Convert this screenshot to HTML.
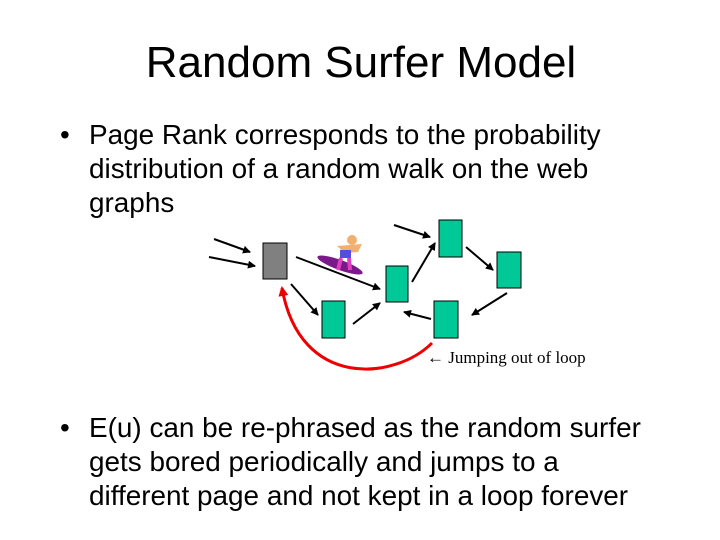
<!DOCTYPE html>
<html><head><style>
body{margin:0;width:720px;height:540px;background:#fff;font-family:"Liberation Sans",sans-serif;position:relative;overflow:hidden}
.t{position:absolute;left:0;width:722px;text-align:center;top:38px;font-size:44px}
.b{position:absolute;font-size:27.9px;line-height:34px;color:#000;white-space:nowrap}
</style></head><body>
<div class="t">Random Surfer Model</div>
<div class="b" style="left:60px;top:118px">•</div>
<div class="b" style="left:89px;top:118px">Page Rank corresponds to the probability<br>distribution of a random walk on the web<br>graphs</div>
<div class="b" style="left:60px;top:411px">•</div>
<div class="b" style="left:89px;top:411px">E(u) can be re-phrased as the random surfer<br>gets bored periodically and jumps to a<br>different page and not kept in a loop forever</div>
<svg width="720" height="540" style="position:absolute;left:0;top:0">
<defs><marker id="a" markerWidth="8" markerHeight="8" refX="7" refY="4" orient="auto" markerUnits="userSpaceOnUse"><path d="M0,0L8,4L0,8z" fill="#000"/></marker>
<marker id="r" markerWidth="10" markerHeight="10" refX="8" refY="5" orient="auto" markerUnits="userSpaceOnUse"><path d="M0,0L10,5L0,10z" fill="#e00"/></marker></defs>
<g stroke="#000" stroke-width="2" fill="#000" fill-opacity="0" marker-end="url(#a)">
<line x1="214" y1="239" x2="250" y2="252"/>
<line x1="209" y1="257" x2="255" y2="266"/>
<line x1="296" y1="257" x2="380" y2="289"/>
<line x1="291" y1="284" x2="318" y2="315"/>
<line x1="353" y1="324" x2="380" y2="303"/>
<line x1="412" y1="282" x2="435" y2="243"/>
<line x1="394" y1="225" x2="430" y2="237"/>
<line x1="466" y1="247" x2="493" y2="270"/>
<line x1="507" y1="293" x2="472" y2="315"/>
<line x1="431" y1="319" x2="404" y2="312"/>
</g>
<rect x="263" y="243" width="24" height="36" fill="#808080" stroke="#000"/>
<g fill="#00c896" stroke="#000">
<rect x="322" y="301" width="23" height="37"/>
<rect x="386" y="266" width="22" height="36"/>
<rect x="439" y="220" width="23" height="37"/>
<rect x="497" y="252" width="24" height="36"/>
<rect x="434" y="301" width="24" height="37"/>
</g>
<path d="M432,343 C395,380 300,390 282,288" stroke="#e00" stroke-width="3" fill="none" marker-end="url(#r)"/>
<ellipse cx="340" cy="265" rx="24" ry="5" transform="rotate(20 340 265)" fill="#7a1a8a"/>
<circle cx="352" cy="240" r="5" fill="#f0b070"/>
<path d="M337,246 L362,244 L358,252 L345,253z" fill="#f0b070"/>
<rect x="340" y="250" width="11" height="8" fill="#5050e0"/>
<path d="M341,258 L338,270 M349,258 L350,270" stroke="#e040c0" stroke-width="4"/>
<text x="427" y="363" font-family="Liberation Serif,serif" font-size="17">← Jumping out of loop</text>
</svg>
</body></html>
